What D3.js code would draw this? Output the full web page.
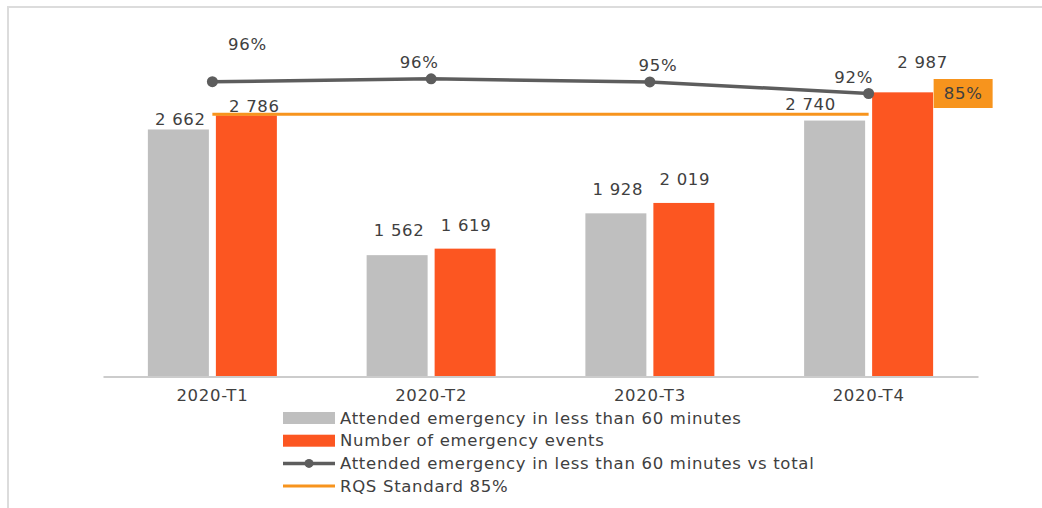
<!DOCTYPE html>
<html>
<head>
<meta charset="utf-8">
<script src="https://cdn.jsdelivr.net/npm/d3@7"></script>
<style>
  html, body { margin: 0; padding: 0; background: #fff; }
  svg { display: block; }
  text { font-family: "DejaVu Sans", sans-serif; fill: #404040; letter-spacing: 0.7px; }
</style>
</head>
<body>
<svg id="chart" width="1042" height="508"></svg>
<script>
// ---- data ----
const categories = ["2020-T1", "2020-T2", "2020-T3", "2020-T4"];
const attended = [2662, 1562, 1928, 2740];
const events = [2786, 1619, 2019, 2987];
const ratioPct = [95.55, 96.48, 95.49, 91.73];
const ratioLabels = ["96%", "96%", "95%", "92%"];
const standardPct = 85;
const barLabels1 = ["2 662", "1 562", "1 928", "2 740"];
const barLabels2 = ["2 786", "1 619", "2 019", "2 987"];
const legendLabels = [
  "Attended emergency in less than 60 minutes",
  "Number of emergency events",
  "Attended emergency in less than 60 minutes vs total",
  "RQS Standard 85%"
];

// ---- layout ----
const svg = d3.select("#chart");
const C = { gray: "#bfbfbf", orange: "#fc5621", line: "#5d5d5d", std: "#f7941d", axis: "#cccccc", frame: "#dcdcdc" };
const baseY = 376.5, topY = 68;
const fs = "16.5px";

const x = d3.scaleBand().domain(categories).range([103, 978]).padding(0);
const y = d3.scaleLinear().domain([500, 3200]).range([baseY, topY]);
const y2 = d3.scaleLinear().domain([0, 100]).range([baseY, topY]);

// frame
svg.append("path").attr("d", "M8,508 V7 H1042").attr("fill", "none").attr("stroke", C.frame).attr("stroke-width", 2);

const cx = c => x(c) + x.bandwidth() / 2;
const barW = 61, gap = 3.5;

// bars
const g = svg.append("g");
g.selectAll("rect.a").data(categories).join("rect")
  .attr("x", c => cx(c) - gap - barW).attr("width", barW)
  .attr("y", (c, i) => y(attended[i])).attr("height", (c, i) => baseY - y(attended[i]))
  .attr("fill", C.gray);
g.selectAll("rect.b").data(categories).join("rect")
  .attr("x", c => cx(c) + gap).attr("width", barW)
  .attr("y", (c, i) => y(events[i])).attr("height", (c, i) => baseY - y(events[i]))
  .attr("fill", C.orange);

// x axis
const xAxis = d3.axisBottom(x).tickSize(0).tickPadding(13);
const ax = svg.append("g").attr("transform", `translate(0,${baseY})`).call(xAxis);
ax.select(".domain").attr("stroke", C.axis).attr("stroke-width", 2);
ax.selectAll("text").style("font-family", '"DejaVu Sans", sans-serif').style("font-size", fs).attr("fill", "#404040");

// standard line
svg.append("line")
  .attr("x1", cx(categories[0])).attr("x2", cx(categories[3]))
  .attr("y1", y2(standardPct)).attr("y2", y2(standardPct))
  .attr("stroke", C.std).attr("stroke-width", 3);

// ratio line
const line = d3.line().x((d, i) => cx(categories[i])).y(d => y2(d));
svg.append("path").datum(ratioPct).attr("d", line)
  .attr("fill", "none").attr("stroke", C.line).attr("stroke-width", 3.5);
svg.selectAll("circle.dot").data(ratioPct).join("circle")
  .attr("cx", (d, i) => cx(categories[i])).attr("cy", d => y2(d)).attr("r", 5.5).attr("fill", C.line);

// value labels
const nudge1 = [[2, -4], [2, -19], [2, -18], [-24, -11]];
const nudge2 = [[8, -3], [1, -18], [1, -18], [20, -24]];
svg.selectAll("text.l1").data(barLabels1).join("text")
  .attr("x", (d, i) => cx(categories[i]) - gap - barW / 2 + nudge1[i][0])
  .attr("y", (d, i) => y(attended[i]) + nudge1[i][1])
  .attr("text-anchor", "middle").style("font-size", fs).text(d => d);
svg.selectAll("text.l2").data(barLabels2).join("text")
  .attr("x", (d, i) => cx(categories[i]) + gap + barW / 2 + nudge2[i][0])
  .attr("y", (d, i) => y(events[i]) + nudge2[i][1])
  .attr("text-anchor", "middle").style("font-size", fs).text(d => d);

const nudgeP = [[35, -32], [-12, -11], [8, -11], [-15, -11]];
svg.selectAll("text.pl").data(ratioLabels).join("text")
  .attr("x", (d, i) => cx(categories[i]) + nudgeP[i][0])
  .attr("y", (d, i) => y2(ratioPct[i]) + nudgeP[i][1])
  .attr("text-anchor", "middle").style("font-size", fs).text(d => d);

// 85% tag
const tagX = cx(categories[3]) + 65;
svg.append("rect").attr("x", tagX).attr("y", 79).attr("width", 59).attr("height", 29).attr("fill", C.std);
svg.append("text").attr("x", tagX + 29.5).attr("y", 99).attr("text-anchor", "middle")
  .style("font-size", fs).attr("fill", "#3a2a10").text(standardPct + "%");

// legend
const lg = svg.append("g").attr("transform", "translate(283,418)");
const rowH = 22.7;
legendLabels.forEach((t, i) => {
  const r = lg.append("g").attr("transform", `translate(0,${i * rowH})`);
  if (i === 0 || i === 1) {
    r.append("rect").attr("x", 0).attr("y", -6).attr("width", 52).attr("height", 12).attr("fill", i === 0 ? C.gray : C.orange);
  } else if (i === 2) {
    r.append("line").attr("x1", 0).attr("x2", 52).attr("y1", 0).attr("y2", 0).attr("stroke", C.line).attr("stroke-width", 3.5);
    r.append("circle").attr("cx", 26).attr("cy", 0).attr("r", 4.5).attr("fill", C.line);
  } else {
    r.append("line").attr("x1", 0).attr("x2", 52).attr("y1", 0).attr("y2", 0).attr("stroke", C.std).attr("stroke-width", 3);
  }
  r.append("text").attr("x", 57).attr("y", 0).attr("dy", "0.35em").style("font-size", fs).text(t);
});
</script>
</body>
</html>
